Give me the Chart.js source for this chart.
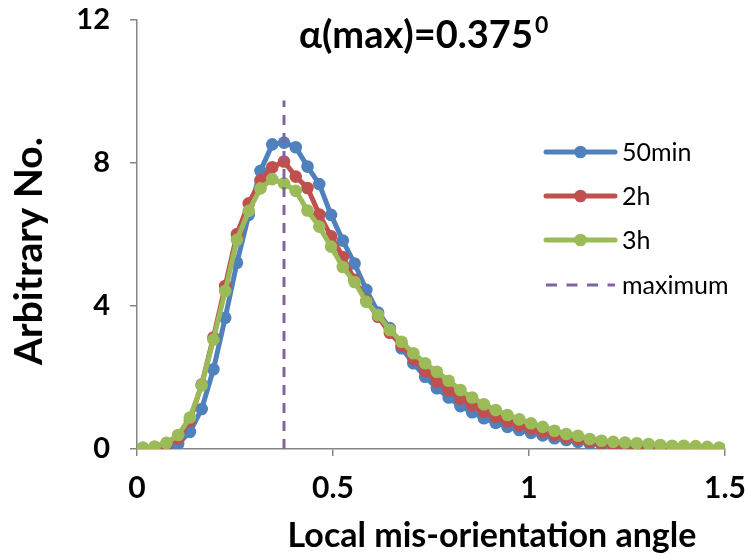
<!DOCTYPE html>
<html>
<head>
<meta charset="utf-8">
<script src="https://cdn.jsdelivr.net/npm/chart.js@4.4.0/dist/chart.umd.min.js"></script>
<style>
html,body{margin:0;padding:0;background:#fff;}
#wrap{width:745px;height:555px;position:relative;}
</style>
</head>
<body>
<div id="wrap"><canvas id="c" width="745" height="555"></canvas></div>
<script>
// Bin centres (local mis-orientation angle)
const angles = [0.015,0.045,0.075,0.105,0.135,0.165,0.195,0.225,0.255,0.285,
  0.315,0.345,0.375,0.405,0.435,0.465,0.495,0.525,0.555,0.585,
  0.615,0.645,0.675,0.705,0.735,0.765,0.795,0.825,0.855,0.885,
  0.915,0.945,0.975,1.005,1.035,1.065,1.095,1.125,1.155,1.185,
  1.215,1.245,1.275,1.305,1.335,1.365,1.395,1.425,1.455,1.485];
const series50min = [0,0.01,0.03,0.14,0.48,1.12,2.23,3.67,5.21,6.55,
  7.78,8.52,8.57,8.44,7.9,7.41,6.55,5.83,5.19,4.45,
  3.82,3.38,2.82,2.40,2.02,1.70,1.44,1.20,1.03,0.86,
  0.73,0.62,0.53,0.45,0.38,0.30,0.25,0.20,0.15,0.12,
  0.09,0.07,0.05,0.04,0.03,0.03,0.02,0.02,0.01,0.01];
const series2h = [0.02,0.05,0.10,0.30,0.80,1.80,3.12,4.56,6.01,6.87,
  7.52,7.88,8.04,7.62,7.30,6.56,5.95,5.37,4.73,4.15,
  3.70,3.25,2.90,2.52,2.18,1.89,1.64,1.41,1.22,1.04,
  0.90,0.77,0.66,0.57,0.48,0.40,0.33,0.27,0.21,0.16,
  0.12,0.10,0.08,0.07,0.06,0.05,0.04,0.03,0.03,0.02];
const series3h = [0.04,0.07,0.17,0.39,0.88,1.78,3.06,4.42,5.85,6.66,
  7.29,7.55,7.43,7.22,6.67,6.22,5.66,5.09,4.67,4.12,
  3.75,3.33,3.00,2.68,2.40,2.16,1.91,1.65,1.44,1.25,
  1.09,0.95,0.83,0.72,0.62,0.51,0.42,0.37,0.28,0.23,
  0.20,0.18,0.16,0.14,0.11,0.09,0.09,0.08,0.06,0.04];
const maxAngle = 0.375;
const maxLineY = [0, 9.75];
const xTicks = [0, 0.5, 1, 1.5];
const yTicks = [0, 4, 8, 12];
const seriesNames = ['50min','2h','3h','maximum'];
const colors = ['#4F81BD','#C0504D','#9BBB59','#8064A2'];

const FONT = 'Lato, "Open Sans", sans-serif';
const toXY = (ys) => ys.map((y,i)=>({x:angles[i], y:y}));

function mk(i, data, order){
  return {label:seriesNames[i], data:toXY(data), borderColor:colors[i], backgroundColor:colors[i],
    borderWidth:5, pointRadius:6.3, pointHoverRadius:6.3, pointBorderWidth:0, tension:0, order:order};
}

const overlay = {
  id:'overlay',
  afterDraw(chart){
    const ctx = chart.ctx;
    ctx.save();
    ctx.fillStyle = '#000';
    // Title
    ctx.textBaseline = 'alphabetic';
    ctx.textAlign = 'left';
    ctx.font = 'bold 38px ' + FONT;
    const t = 'α(max)=0.375';
    ctx.fillText(t, 299, 48);
    const w = ctx.measureText(t).width;
    ctx.font = 'bold 23px ' + FONT;
    ctx.fillText('0', 299 + w + 2, 33);
    // Axis titles
    ctx.font = 'bold 34px ' + FONT;
    ctx.textAlign = 'center';
    ctx.textBaseline = 'middle';
    ctx.fillText('Local mis-orientation angle', 492, 536);
    ctx.save();
    ctx.translate(29, 251);
    ctx.rotate(-Math.PI/2);
    ctx.font = 'bold 39px ' + FONT;
    ctx.fillText('Arbitrary No.', 0, 0);
    ctx.restore();
    // Legend
    const ys = [152,196,240,285];
    ctx.font = '25px ' + FONT;
    ctx.textAlign = 'left';
    for (let i=0;i<4;i++){
      const y = ys[i];
      ctx.strokeStyle = colors[i];
      ctx.lineWidth = i<3 ? 5 : 3;
      ctx.lineCap = i<3 ? 'round' : 'butt';
      if (i===3) ctx.setLineDash([11,9.5]); else ctx.setLineDash([]);
      ctx.beginPath(); ctx.moveTo(546,y); ctx.lineTo(615,y); ctx.stroke();
      ctx.setLineDash([]);
      if (i<3){
        ctx.fillStyle = colors[i];
        ctx.beginPath(); ctx.arc(580.5,y,6.3,0,Math.PI*2); ctx.fill();
      }
      ctx.fillStyle = '#000';
      ctx.fillText(seriesNames[i], 622, y+1);
    }
    ctx.restore();
  }
};

new Chart(document.getElementById('c'), {
  type:'line',
  data:{datasets:[
    {label:seriesNames[3], data:maxLineY.map(y=>({x:maxAngle,y:y})), borderColor:colors[3], borderWidth:3,
      borderDash:[10,8], pointRadius:0, order:0},
    mk(2, series3h, 1),
    mk(1, series2h, 2),
    mk(0, series50min, 3)
  ]},
  options:{
    responsive:false, animation:false,
    layout:{padding:{left:0,right:20,top:20,bottom:0}},
    plugins:{legend:{display:false}, title:{display:false}, tooltip:{enabled:false}},
    scales:{
      x:{type:'linear', min:0, max:1.5,
        afterBuildTicks(s){ s.ticks = xTicks.map(v=>({value:v})); },
        afterFit(s){ s.height = 106; s.paddingLeft = 0; s.paddingRight = 0; },
        ticks:{color:'#000', font:{family:FONT, weight:'bold', size:30}, padding:14,
          callback:(v)=>String(v), maxRotation:0},
        grid:{display:true, drawOnChartArea:false, drawTicks:true, tickLength:7, color:'#868686', lineWidth:1.5},
        border:{display:true, color:'#868686', width:1.5}
      },
      y:{type:'linear', min:0, max:12,
        afterBuildTicks(s){ s.ticks = yTicks.map(v=>({value:v})); },
        afterFit(s){ s.width = 137; s.paddingTop = 0; s.paddingBottom = 0; },
        ticks:{color:'#000', font:{family:FONT, weight:'bold', size:29}, padding:20},
        grid:{display:true, drawOnChartArea:false, drawTicks:true, tickLength:7, color:'#868686', lineWidth:1.5},
        border:{display:true, color:'#868686', width:1.5}
      }
    }
  },
  plugins:[overlay]
});
</script>
</body>
</html>
